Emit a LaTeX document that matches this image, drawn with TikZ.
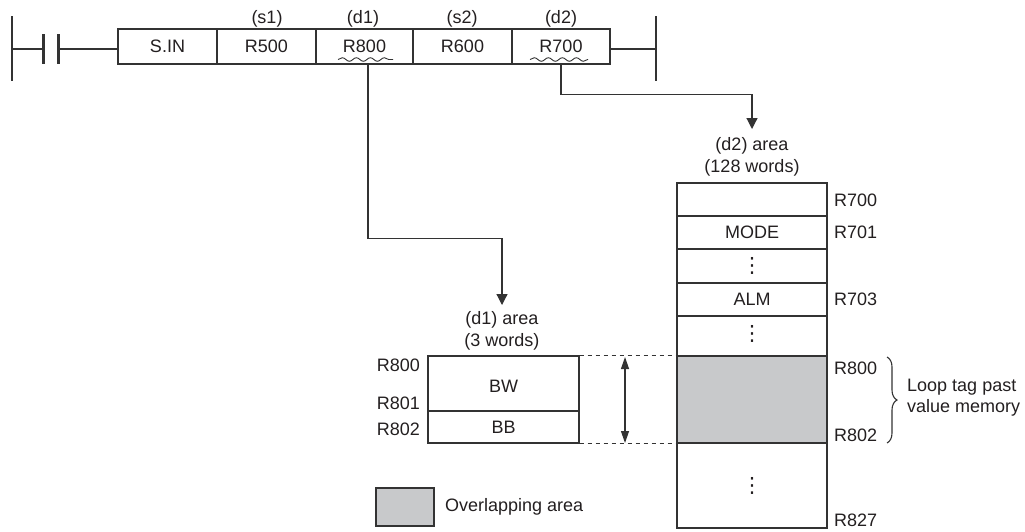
\documentclass[tikz,border=0pt]{standalone}
\usepackage{fontspec}
\setmainfont{Liberation Sans}
\newfontfamily\dejavu{DejaVu Sans}
\usetikzlibrary{arrows.meta,decorations.pathmorphing,decorations.pathreplacing,calc}
\definecolor{ln}{HTML}{333333}
\definecolor{tx}{HTML}{231F20}
\definecolor{ov}{HTML}{C8C9CB}
\begin{document}
\begin{tikzpicture}[x=1pt,y=-1pt,
  every node/.style={font=\fontsize{18}{22}\selectfont, text=tx, inner sep=0pt},
  wire/.style={draw=ln, line width=1.2pt},
  cell/.style={draw=ln, line width=1.2pt, minimum height=35pt, inner sep=0pt},
  mem/.style={draw=ln, line width=1.2pt, minimum width=150pt, inner sep=0pt},
  arr/.style={wire, -{Triangle[width=11pt,length=11pt]}},
  dbl/.style={wire, {Triangle[width=8pt,length=12pt]}-{Triangle[width=8pt,length=12pt]}},
  wavy/.style={draw=ln, line width=0.9pt, decorate, decoration={snake,amplitude=1.8pt,segment length=14pt}},
  vdots/.style={font=\dejavu\fontsize{21}{21}\selectfont},
  dashline/.style={draw=ln, line width=1.1pt, dash pattern=on 4pt off 4pt},
  brc/.style={draw=ln, line width=1.1pt, decorate, decoration={brace,amplitude=10pt}}
]
\useasboundingbox (0,0) rectangle (1025,531);

% ladder
\coordinate (lt) at (12,16); \coordinate (lb) at (12,81);
\coordinate (ka) at (43.5,49); \coordinate (kb) at (58.5,49);
\coordinate (rt) at (656,16); \coordinate (rb) at (656,81);
\coordinate (rm) at (656,49);
\draw[wire] (lt) -- (lb);
\draw[wire] (rt) -- (rb);
\draw[wire] (12,49) -- (ka);
\draw[line width=2.2pt, draw=ln] (43.5,34) -- (43.5,64);
\draw[line width=2.2pt, draw=ln] (58.5,34) -- (58.5,64);

% instruction cells
\node[cell, minimum width=99pt] (c1) at (167.5,46.5) {S.IN};
\node[cell, minimum width=99pt] (c2) at (266.5,46.5) {R500};
\node[cell, minimum width=97pt] (c3) at (364.5,46.5) {R800};
\node[cell, minimum width=99pt] (c4) at (462.5,46.5) {R600};
\node[cell, minimum width=98pt] (c5) at (561,46.5) {R700};
\draw[wire] (kb) -- ([yshift=-2.5pt]c1.west);
\draw[wire] ([yshift=-2.5pt]c5.east) -- (rm);

\node (s1) at (267,19) {(s1)};
\node (d1) at (363,19) {(d1)};
\node (s2) at (462,19) {(s2)};
\node (d2) at (561,19) {(d2)};

\draw[wavy] (338,59.5) -- (393,59.5);
\draw[wavy] (530,59.5) -- (588,59.5);

% arrows
\coordinate (d1tip) at (502,305);
\coordinate (d2tip) at (752,129);
\draw[arr] ([xshift=3.5pt]c3.south) -- ++(0,174) -| (d1tip);
\draw[arr] (c5.south) -- ++(0,30) -| (d2tip);

% d2 area
\node[align=center] (d2t) at (752,157) {(d2) area\\(128 words)};
\node[mem, minimum height=33pt] (r0) at (752,199.5) {};
\node[mem, minimum height=33pt] (r1) at (752,232.5) {MODE};
\node[mem, minimum height=34pt] (r2) at (752,266) {};
\node[mem, minimum height=33pt] (r3) at (752,299.5) {ALM};
\node[mem, minimum height=40pt] (r4) at (752,336) {};
\node[mem, minimum height=87pt, fill=ov] (r5) at (752,399.5) {};
\node[mem, minimum height=85pt] (r6) at (752,485.5) {};
\node[vdots] (v2) at (r2) {⋮};
\node[vdots] (v4) at ($(r4)+(0,-2)$) {⋮};
\node[vdots] (v6) at (r6) {⋮};

\node[anchor=west] (a700) at (834,200) {R700};
\node[anchor=west] (a701) at (834,232) {R701};
\node[anchor=west] (a703) at (834,299) {R703};
\node[anchor=west] (a800) at (834,368) {R800};
\node[anchor=west] (a802) at (834,435) {R802};
\node[anchor=west] (a827) at (834,520) {R827};

\draw[brc] (887,357) -- (887,443);
\node[anchor=west, align=left, font=\fontsize{18}{21}\selectfont] (loop) at (907,398) {Loop tag past\\value memory};

% d1 area
\node[align=center] (d1t) at (502,331) {(d1) area\\(3 words)};
\node[mem, minimum width=151pt, minimum height=55pt] (b0) at (503.5,383.5) {};
\node[mem, minimum width=151pt, minimum height=32pt] (b1) at (503.5,427) {BB};
\node (bw) at (503.5,386) {BW};
\node[anchor=east] (e800) at (420,365) {R800};
\node[anchor=east] (e801) at (420,403) {R801};
\node[anchor=east] (e802) at (420,429) {R802};

\draw[dashline] (b0.north east) -- (r5.north west);
\draw[dashline] (b1.south east) -- (r5.south west);
\draw[dbl] (625,357) -- (625,443);

% legend
\node[draw=ln, line width=1.1pt, fill=ov, minimum width=58pt, minimum height=38pt] (leg) at (405,507) {};
\node[anchor=west] (legt) at (445,507) {Overlapping area};
\end{tikzpicture}
\end{document}
